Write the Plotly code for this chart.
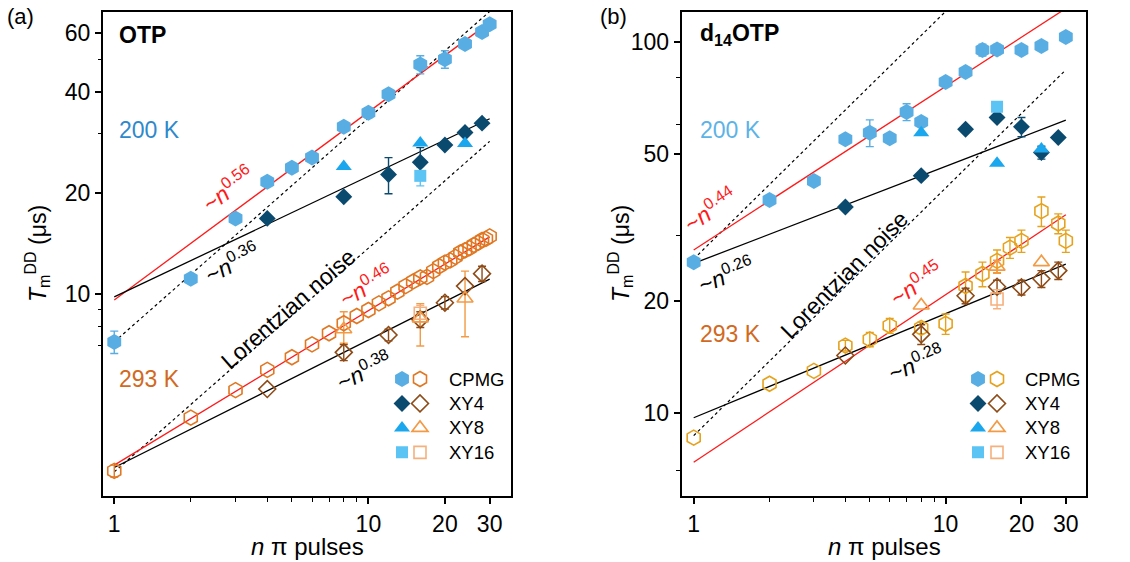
import math
import plotly.graph_objects as go

FIG_W, FIG_H = 1130, 562
FONT = "Liberation Sans, Arial, Helvetica, sans-serif"

# ------------------------- Panel (a): OTP -------------------------
a_cpmg200_n = [1, 2, 3, 4, 5, 6, 8, 10, 12, 16, 20, 24, 28, 30]
a_cpmg200_T = [7.2, 11.1, 16.8, 21.6, 23.8, 25.5, 31.5, 34.7, 39.4, 48.3, 50.1, 55.6, 60.4, 63.7]
a_cpmg200_e = [0.55, None, None, None, None, None, None, 1.2, 1.0, 3.0, 3.0, 1.5, None, None]

a_xy4_200_n = [4, 8, 12, 16, 20, 24, 28]
a_xy4_200_T = [16.8, 19.5, 22.7, 24.7, 27.8, 30.3, 32.3]
a_xy4_200_e = [None, None, 2.8, 2.6, None, None, None]

a_xy8_200_n = [8, 16, 24]
a_xy8_200_T = [24.0, 28.2, 28.1]

a_xy16_200_n = [16]
a_xy16_200_T = [22.5]
a_xy16_200_e = [1.5]

a_cpmg293_n = [1, 2, 3, 4, 5, 6, 7, 8, 9, 10, 11, 12, 13, 14, 15,
               16, 17, 18, 19, 20, 21, 22, 23, 24, 25, 26, 27, 28, 29, 30]
a_cpmg293_T = [2.97, 4.28, 5.17, 5.94, 6.48, 7.08, 7.64, 8.18, 8.60, 8.96,
               9.38, 9.71, 10.16, 10.56, 10.9, 11.2, 11.25, 11.7, 12.1, 12.4,
               12.6, 12.9, 13.3, 13.5, 13.7, 14.0, 14.2, 14.5, 14.6, 14.85]
a_cpmg293_e = [0.12] + [None] * 29

a_xy4_293_n = [4, 8, 12, 16, 20, 24, 28]
a_xy4_293_T = [5.21, 6.70, 7.55, 8.40, 9.42, 10.56, 11.5]
a_xy4_293_e = [None, 0.37, 0.3, 0.45, 0.4, None, 0.6]

a_xy8_293_n = [8, 16, 24]
a_xy8_293_T = [7.85, 8.46, 9.7]
a_xy8_293_eup = [1.0, 0.9, 2.0]
a_xy8_293_edn = [0.72, 1.46, 2.24]

a_xy16_293_n = [16]
a_xy16_293_T = [8.76]
a_xy16_293_e = [0.5]

# fitted power laws (values read at n = 1 and n = 30)
fit_n = [1, 30]
a_fit_red200 = [9.6, 64.5]      # ~n^0.56
a_fit_blk200 = [9.8, 33.3]      # ~n^0.36
a_fit_lor_hi = [7.2, 69.5]      # Lorentzian noise
a_fit_lor_lo = [2.95, 28.5]     # Lorentzian noise
a_fit_red293 = [3.09, 14.8]     # ~n^0.46
a_fit_blk293 = [3.04, 11.07]    # ~n^0.38

# ------------------------- Panel (b): d14OTP -------------------------
b_cpmg200_n = [1, 2, 3, 4, 5, 6, 7, 8, 10, 12, 14, 16, 20, 24, 30]
b_cpmg200_T = [25.5, 37.5, 42.2, 54.6, 56.9, 55.0, 64.7, 60.8, 77.9, 82.9, 95.0, 95.3, 95.0, 97.4, 103.0]
b_cpmg200_e = [None, None, None, None, 4.7, None, 3.4, None, None, 2.0, 3.5, 3.0, None, None, 3.0]

b_xy4_200_n = [4, 8, 12, 16, 20, 24, 28]
b_xy4_200_T = [35.9, 43.6, 58.1, 62.5, 59.0, 50.3, 55.2]
b_xy4_200_e = [None, None, None, None, 3.5, 2.0, None]

b_xy8_200_n = [8, 16, 24]
b_xy8_200_T = [56.9, 47.1, 51.4]

b_xy16_200_n = [16]
b_xy16_200_T = [66.8]

b_cpmg293_n = [1, 2, 3, 4, 5, 6, 8, 10, 12, 14, 16, 18, 20, 24, 28, 30]
b_cpmg293_T = [8.59, 12.0, 13.0, 15.2, 15.8, 17.2, 16.97, 17.4, 22.0, 23.7, 25.7, 27.9, 29.1, 35.0, 32.4, 29.1]
b_cpmg293_e = [None, None, None, 0.5, 0.7, 0.8, 0.6, 1.1, 2.0, 1.8, 1.8, 1.8, 2.0, 3.2, 2.0, 2.0]

b_xy4_293_n = [4, 8, 12, 16, 20, 24, 28]
b_xy4_293_T = [14.3, 16.3, 20.7, 21.9, 21.8, 23.0, 24.2]
b_xy4_293_e = [None, 1.0, 1.0, 0.9, 1.0, 1.2, 1.3]

b_xy8_293_n = [8, 16, 24]
b_xy8_293_T = [19.5, 24.8, 25.5]
b_xy8_293_e = [None, 1.0, None]

b_xy16_293_n = [16]
b_xy16_293_T = [20.3]
b_xy16_293_e = [1.2]

b_fit_red200 = [27.5, 122.9]    # ~n^0.44
b_fit_blk200 = [25.3, 61.5]     # ~n^0.26
b_fit_lor_hi = [26.0, 251.0]    # Lorentzian noise
b_fit_lor_lo = [8.7, 84.0]      # Lorentzian noise
b_fit_red293 = [7.38, 34.2]     # ~n^0.45
b_fit_blk293 = [9.72, 25.2]     # ~n^0.28

legend_labels = ["CPMG", "XY4", "XY8", "XY16"]

# ------------------------- styles -------------------------
C_CPMG200 = "#58ADE3"
C_XY4_200 = "#0B4A6F"
C_XY8_200 = "#1AA7EE"
C_XY16_200 = "#5CC3F5"
C_CPMG293_A = "#E07722"
C_CPMG293_B = "#E6A21C"
C_XY4_293 = "#8E4B17"
C_XY8_293 = "#F39A45"
C_XY16_293 = "#F6B07C"
C_RED = "#FF1A1A"
FS = 23  # main text size

SZ_HEX, SZ_HEX_O, SZ_DIA, SZ_TRI, SZ_SQ = 16, 15, 13, 14, 12

fig = go.Figure()


def err_trace(n, T, eup, edn, color, xa, ya):
    idx = [i for i in range(len(n)) if eup[i] is not None]
    if not idx:
        return
    fig.add_trace(go.Scatter(
        x=[n[i] for i in idx], y=[T[i] for i in idx], mode="markers",
        marker=dict(size=1, color="rgba(0,0,0,0)"),
        error_y=dict(type="data", symmetric=False,
                     array=[eup[i] for i in idx], arrayminus=[edn[i] for i in idx],
                     color=color, thickness=1.4, width=4),
        xaxis=xa, yaxis=ya, showlegend=False, hoverinfo="skip"))


def pts(n, T, symbol, size, color, xa, ya, legend, filled):
    if filled:
        marker = dict(symbol=symbol, size=size, color=color, line=dict(width=0))
    else:
        marker = dict(symbol=symbol + "-open", size=size, color=color, line=dict(width=1.6, color=color))
    fig.add_trace(go.Scatter(x=n, y=T, mode="markers", marker=marker, name=" ",
                             xaxis=xa, yaxis=ya, legend=legend, showlegend=True))


def fitline(vals, color, dash, xa, ya, width=1.3):
    fig.add_trace(go.Scatter(x=fit_n, y=vals, mode="lines",
                             line=dict(color=color, width=width, dash=dash),
                             xaxis=xa, yaxis=ya, showlegend=False, hoverinfo="skip"))


DOT = "3px,3px"

# ---- panel (a) ----
for vals, col, dash in [(a_fit_lor_hi, "black", DOT), (a_fit_lor_lo, "black", DOT),
                        (a_fit_red200, C_RED, "solid"), (a_fit_blk200, "black", "solid"),
                        (a_fit_red293, C_RED, "solid"), (a_fit_blk293, "black", "solid")]:
    fitline(vals, col, dash, "x", "y", 1.2 if dash == DOT else 1.3)

err_trace(a_cpmg200_n, a_cpmg200_T, a_cpmg200_e, a_cpmg200_e, C_CPMG200, "x", "y")
err_trace(a_xy4_200_n, a_xy4_200_T, a_xy4_200_e, a_xy4_200_e, C_XY4_200, "x", "y")
err_trace(a_xy16_200_n, a_xy16_200_T, a_xy16_200_e, a_xy16_200_e, C_XY16_200, "x", "y")
err_trace(a_cpmg293_n, a_cpmg293_T, a_cpmg293_e, a_cpmg293_e, C_CPMG293_A, "x", "y")
err_trace(a_xy4_293_n, a_xy4_293_T, a_xy4_293_e, a_xy4_293_e, C_XY4_293, "x", "y")
err_trace(a_xy8_293_n, a_xy8_293_T, a_xy8_293_eup, a_xy8_293_edn, C_XY8_293, "x", "y")
err_trace(a_xy16_293_n, a_xy16_293_T, a_xy16_293_e, a_xy16_293_e, C_XY16_293, "x", "y")

pts(a_cpmg200_n, a_cpmg200_T, "hexagon", SZ_HEX, C_CPMG200, "x", "y", "legend", True)
pts(a_xy4_200_n, a_xy4_200_T, "diamond", SZ_DIA, C_XY4_200, "x", "y", "legend", True)
pts(a_xy8_200_n, a_xy8_200_T, "triangle-up", SZ_TRI, C_XY8_200, "x", "y", "legend", True)
pts(a_xy16_200_n, a_xy16_200_T, "square", SZ_SQ, C_XY16_200, "x", "y", "legend", True)
pts(a_cpmg293_n, a_cpmg293_T, "hexagon", SZ_HEX_O, C_CPMG293_A, "x", "y", "legend2", False)
pts(a_xy4_293_n, a_xy4_293_T, "diamond", SZ_DIA, C_XY4_293, "x", "y", "legend2", False)
pts(a_xy8_293_n, a_xy8_293_T, "triangle-up", SZ_TRI, C_XY8_293, "x", "y", "legend2", False)
pts(a_xy16_293_n, a_xy16_293_T, "square", SZ_SQ, C_XY16_293, "x", "y", "legend2", False)

# ---- panel (b) ----
for vals, col, dash in [(b_fit_lor_hi, "black", DOT), (b_fit_lor_lo, "black", DOT),
                        (b_fit_red200, C_RED, "solid"), (b_fit_blk200, "black", "solid"),
                        (b_fit_red293, C_RED, "solid"), (b_fit_blk293, "black", "solid")]:
    fitline(vals, col, dash, "x2", "y2", 1.2 if dash == DOT else 1.3)

err_trace(b_cpmg200_n, b_cpmg200_T, b_cpmg200_e, b_cpmg200_e, C_CPMG200, "x2", "y2")
err_trace(b_xy4_200_n, b_xy4_200_T, b_xy4_200_e, b_xy4_200_e, C_XY4_200, "x2", "y2")
err_trace(b_cpmg293_n, b_cpmg293_T, b_cpmg293_e, b_cpmg293_e, C_CPMG293_B, "x2", "y2")
err_trace(b_xy4_293_n, b_xy4_293_T, b_xy4_293_e, b_xy4_293_e, C_XY4_293, "x2", "y2")
err_trace(b_xy8_293_n, b_xy8_293_T, b_xy8_293_e, b_xy8_293_e, C_XY8_293, "x2", "y2")
err_trace(b_xy16_293_n, b_xy16_293_T, b_xy16_293_e, b_xy16_293_e, C_XY16_293, "x2", "y2")

pts(b_cpmg200_n, b_cpmg200_T, "hexagon", SZ_HEX, C_CPMG200, "x2", "y2", "legend3", True)
pts(b_xy4_200_n, b_xy4_200_T, "diamond", SZ_DIA, C_XY4_200, "x2", "y2", "legend3", True)
pts(b_xy8_200_n, b_xy8_200_T, "triangle-up", SZ_TRI, C_XY8_200, "x2", "y2", "legend3", True)
pts(b_xy16_200_n, b_xy16_200_T, "square", SZ_SQ, C_XY16_200, "x2", "y2", "legend3", True)
pts(b_cpmg293_n, b_cpmg293_T, "hexagon", SZ_HEX_O, C_CPMG293_B, "x2", "y2", "legend4", False)
pts(b_xy4_293_n, b_xy4_293_T, "diamond", SZ_DIA, C_XY4_293, "x2", "y2", "legend4", False)
pts(b_xy8_293_n, b_xy8_293_T, "triangle-up", SZ_TRI, C_XY8_293, "x2", "y2", "legend4", False)
pts(b_xy16_293_n, b_xy16_293_T, "square", SZ_SQ, C_XY16_293, "x2", "y2", "legend4", False)


# ------------------------- axes -------------------------
def px(x):
    return x / FIG_W


def py(y):
    return 1 - y / FIG_H


def axis(dom, rng, tickvals, minorvals, anchor):
    return dict(domain=dom, type="log", range=rng, tickmode="array", anchor=anchor,
                tickvals=tickvals, ticktext=[str(v) for v in tickvals],
                ticks="outside", ticklen=6, tickwidth=1.6, tickcolor="black",
                minor=dict(tickmode="array", tickvals=minorvals, ticks="outside",
                           ticklen=3.5, tickwidth=1.4, tickcolor="black", showgrid=False),
                showline=True, linewidth=2, linecolor="black", mirror=True,
                showgrid=False, zeroline=False,
                tickfont=dict(family=FONT, size=FS, color="black"))


ydom = [py(496), py(12)]
xa = axis([px(103), px(511)], [math.log10(0.903), math.log10(36.4)], [1, 10, 20, 30],
          [2, 3, 4, 5, 6, 7, 8, 9], "y")
ya = axis(ydom, [0.398, 1.8405], [10, 20, 40, 60], [7, 8, 9, 30, 50], "x")
xb = axis([px(681.7), px(1085.7)], [-0.0476, 1.556], [1, 10, 20, 30],
          [2, 3, 4, 5, 6, 7, 8, 9], "y2")
yb = axis(ydom, [0.777, 2.08], [10, 20, 50, 100], [7, 30, 60, 80], "x2")

LEG_ROW0 = 379
LEG_FONT = 16.5
LEG_H = 1.3 * LEG_FONT + 3


def legend_cfg(xpix):
    return dict(x=px(xpix), y=py(LEG_ROW0 - 5 - LEG_H / 2), xanchor="left", yanchor="top",
                bgcolor="rgba(0,0,0,0)", borderwidth=0, itemwidth=30,
                font=dict(family=FONT, size=LEG_FONT, color="black"), traceorder="normal")


ann = []


def A(x, y, text, size=FS, color="black", angle=0, xanchor="center"):
    ann.append(dict(x=px(x), y=py(y), xref="paper", yref="paper", text=text,
                    showarrow=False, textangle=angle, xanchor=xanchor, yanchor="middle",
                    font=dict(family=FONT, size=size, color=color)))


# panel (a) texts
A(20, 16, "(a)", 22)
A(117, 35, "<b>OTP</b>", FS, xanchor="left")
A(117, 130, "200 K", FS, "#2E89CC", xanchor="left")
A(117, 379, "293 K", FS, "#D2691E", xanchor="left")
A(228, 188, "~<i>n</i><sup>0.56</sup>", FS, C_RED, -36)
A(232, 262, "~<i>n</i><sup>0.36</sup>", FS, "black", -27)
A(288, 309, "Lorentzian noise", FS, "black", -41)
A(366, 285, "~<i>n</i><sup>0.46</sup>", FS, C_RED, -30)
A(364, 370, "~<i>n</i><sup>0.38</sup>", FS, "black", -25)
A(37, 254, "<i>T</i><sub>m</sub><sup>DD</sup> (μs)", FS, angle=-90)
A(307, 546, "<i>n</i> π pulses", 24)

# panel (b) texts
A(613, 16, "(b)", 22)
A(698, 35, "<b>d<sub>14</sub>OTP</b>", FS, xanchor="left")
A(698, 130, "200 K", FS, "#5CB3E6", xanchor="left")
A(698, 334, "293 K", FS, "#D2691E", xanchor="left")
A(710, 209, "~<i>n</i><sup>0.44</sup>", FS, C_RED, -33)
A(726, 274, "~<i>n</i><sup>0.26</sup>", FS, "black", -21)
A(844, 275, "Lorentzian noise", FS, "black", -45)
A(916, 283, "~<i>n</i><sup>0.45</sup>", FS, C_RED, -33)
A(916, 362, "~<i>n</i><sup>0.28</sup>", FS, "black", -22)
A(620, 254, "<i>T</i><sub>m</sub><sup>DD</sup> (μs)", FS, angle=-90)
A(884, 546, "<i>n</i> π pulses", 24)

# legend labels
for i, lab in enumerate(legend_labels):
    A(447, LEG_ROW0 + i * LEG_H, lab, 18.5, xanchor="left")
    A(1023, LEG_ROW0 + i * LEG_H, lab, 18.5, xanchor="left")

fig.update_layout(
    width=FIG_W, height=FIG_H, margin=dict(l=0, r=0, t=0, b=0),
    paper_bgcolor="white", plot_bgcolor="white",
    font=dict(family=FONT, size=FS, color="black"),
    xaxis=xa, yaxis=ya, xaxis2=xb, yaxis2=yb,
    legend=legend_cfg(382), legend2=legend_cfg(400),
    legend3=legend_cfg(958), legend4=legend_cfg(977),
    annotations=ann, showlegend=True,
)

fig.write_html("out.html")
